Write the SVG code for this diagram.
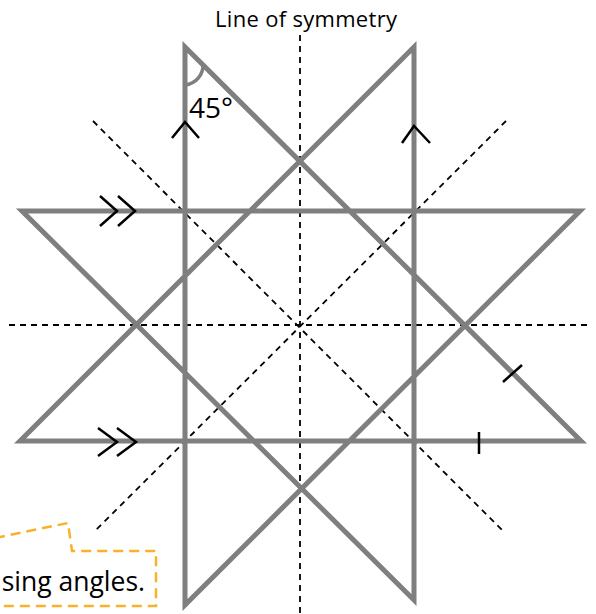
<svg xmlns="http://www.w3.org/2000/svg" width="596" height="614" viewBox="0 0 596 614">
<style>
.sym{fill:none;stroke:#000;stroke-width:1.8;stroke-dasharray:6 5}
.star{fill:none;stroke:#7f7f7f;stroke-width:5;stroke-linejoin:miter}
.mark{fill:none;stroke:#000;stroke-width:2.5}
.callout{fill:none;stroke:#f7b22a;stroke-width:2.5;stroke-dasharray:10 6}
.txt{font-family:"Open Sans","Liberation Sans",sans-serif;fill:#000}
</style>
<rect width="596" height="614" fill="#fff"/>
<g id="symmetry-lines">
<line class="sym" x1="300" y1="35" x2="300" y2="614"/>
<line class="sym" x1="9" y1="325" x2="591" y2="325"/>
<line class="sym" x1="93" y1="121" x2="505" y2="533"/>
<line class="sym" x1="506" y1="121" x2="94" y2="532"/>
</g>
<g id="star">
<path class="star" d="M185,47 L185,605 L580,211 L22,211 L414,600 L414,47 L20,441 L581,441 Z"/>
</g>
<g id="marks">
<path class="mark" d="M172,138 L185,122 L199,138"/>
<path class="mark" d="M402,143 L414,126 L430,143"/>
<path class="mark" d="M100,196 L117,211 L100,226 M118,196 L135,211 L118,226"/>
<path class="mark" d="M98,428 L117,442 L98,456 M117,428 L136,442 L117,456"/>
<line class="mark" x1="503" y1="382" x2="522" y2="365"/>
<line class="mark" x1="479" y1="432" x2="479" y2="454"/>
<path d="M185,85 A20,20 0 0 0 203,64" fill="none" stroke="#7f7f7f" stroke-width="3.5"/>
</g>
<g id="labels">
<text class="txt" x="306" y="27" font-size="22" text-anchor="middle" textLength="182" lengthAdjust="spacing">Line of symmetry</text>
<text class="txt" x="189" y="118" font-size="28">45°</text>
</g>
<g id="callout">
<path class="callout" d="M-5,538 L68,523 L72,551 L156,551 L156,606 L-5,606"/>
<text class="txt" x="145" y="591" font-size="26.5" text-anchor="end">sing angles.</text>
</g>
</svg>
